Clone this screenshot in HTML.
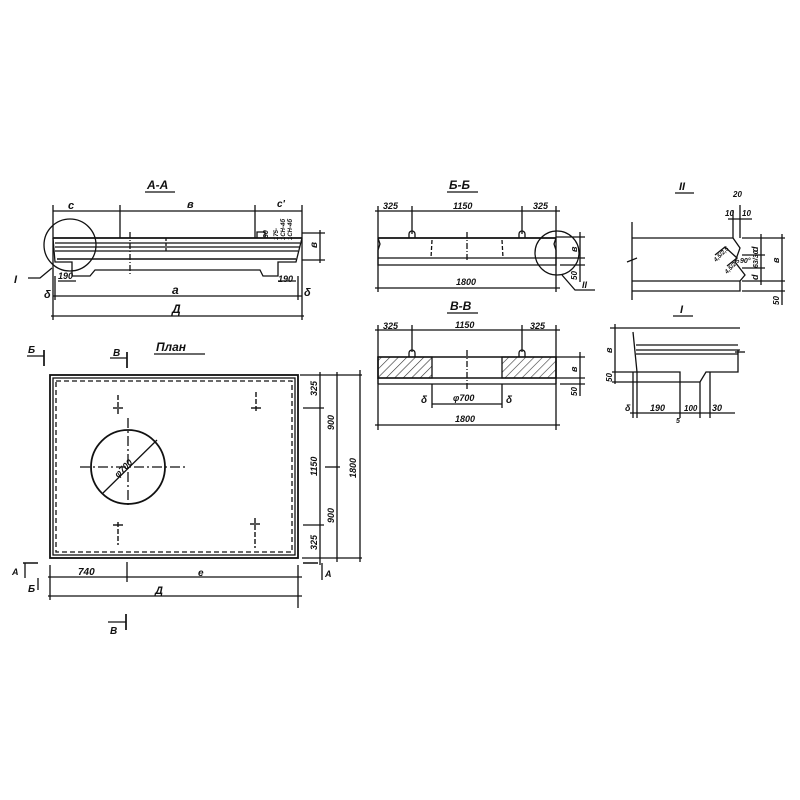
<!DOCTYPE html>
<html><head><meta charset="utf-8"><style>
html,body{margin:0;padding:0;background:#fff}
svg{display:block}
text{font-family:"Liberation Sans",sans-serif;font-style:italic;font-weight:bold;fill:#111}
</style></head><body>
<svg width="800" height="800" viewBox="0 0 800 800" xmlns="http://www.w3.org/2000/svg" stroke="#111" fill="none" stroke-width="1.3">
<!-- ===== A-A ===== -->
<text x="147" y="189" font-size="12" stroke="none">А-А</text>
<line x1="145" y1="192" x2="175" y2="192"/>
<line x1="53" y1="211" x2="302" y2="211"/>
<line x1="53" y1="205" x2="53" y2="320"/>
<line x1="120" y1="205" x2="120" y2="238"/>
<line x1="255" y1="205" x2="255" y2="238"/>
<line x1="302" y1="205" x2="302" y2="320"/>
<text x="68" y="209" font-size="11" stroke="none">с</text>
<text x="187" y="208" font-size="11" stroke="none">в</text>
<text x="277" y="207" font-size="10" stroke="none">с'</text>
<text x="268" y="238" font-size="7" stroke="none" transform="rotate(-90 268 238)">30</text>
<text x="278" y="240" font-size="6" stroke="none" transform="rotate(-90 278 240)">175-</text>
<text x="285" y="240" font-size="6" stroke="none" transform="rotate(-90 285 240)">1СН-4б</text>
<text x="292" y="240" font-size="6" stroke="none" transform="rotate(-90 292 240)">1СН-4б</text>
<polyline points="257,238 257,232 265,232 265,238"/>
<line x1="53" y1="238" x2="302" y2="238" stroke-width="1.8"/>
<line x1="55" y1="243" x2="300" y2="243"/>
<line x1="55" y1="247" x2="300" y2="247"/>
<line x1="55" y1="251" x2="298" y2="251"/>
<line x1="57" y1="259" x2="296" y2="259" stroke-width="1.5"/>
<polyline points="53,238 55,262 72,262 72,276 90,276 95,270 260,270 263,276 278,276 278,262 296,262 302,238"/>
<line x1="130" y1="232" x2="130" y2="275" stroke-dasharray="6,2,1,2"/>
<line x1="166" y1="238" x2="166" y2="252" stroke-dasharray="3,2"/>
<circle cx="70" cy="245" r="26"/>
<polyline points="28,278 40,278 52,268"/>
<text x="14" y="283" font-size="11" stroke="none">I</text>
<text x="58" y="279" font-size="9" stroke="none">190</text>
<text x="278" y="282" font-size="9" stroke="none">190</text>
<line x1="58" y1="281" x2="76" y2="281"/>
<line x1="278" y1="281" x2="296" y2="281"/>
<line x1="53" y1="296" x2="302" y2="296"/>
<line x1="55" y1="276" x2="55" y2="300"/>
<line x1="298" y1="276" x2="298" y2="300"/>
<text x="44" y="298" font-size="11" stroke="none">δ</text>
<text x="304" y="296" font-size="11" stroke="none">δ</text>
<text x="172" y="294" font-size="12" stroke="none">а</text>
<line x1="51" y1="316" x2="304" y2="316"/>
<text x="172" y="313" font-size="12" stroke="none">Д</text>
<line x1="302" y1="233" x2="325" y2="233"/>
<line x1="302" y1="260" x2="325" y2="260"/>
<line x1="320" y1="230" x2="320" y2="263"/>
<text x="317" y="248" font-size="10" stroke="none" transform="rotate(-90 317 248)">в</text>
<!-- ===== Plan ===== -->
<text x="156" y="351" font-size="12" stroke="none">План</text>
<line x1="154" y1="354" x2="205" y2="354"/>
<text x="28" y="353" font-size="10" stroke="none">Б</text>
<line x1="27" y1="356" x2="44" y2="356"/><line x1="44" y1="350" x2="44" y2="366" stroke-width="1.7"/>
<text x="113" y="356" font-size="10" stroke="none">В</text>
<line x1="110" y1="358" x2="127" y2="358"/><line x1="127" y1="352" x2="127" y2="368" stroke-width="1.7"/>
<rect x="50" y="375" width="248" height="183" stroke-width="1.8"/>
<rect x="53" y="378" width="242" height="177"/>
<rect x="56" y="381" width="236" height="171" stroke-dasharray="5,3"/>
<circle cx="128" cy="467" r="37" stroke-width="1.8"/>
<line x1="80" y1="467" x2="185" y2="467" stroke-dasharray="10,3,2,3"/>
<line x1="128" y1="418" x2="128" y2="505" stroke-dasharray="10,3,2,3"/>
<line x1="103" y1="493" x2="157" y2="440"/>
<text x="118" y="478" font-size="9" stroke="none" transform="rotate(-45 118 478)">φ700</text>
<g stroke-width="1.4">
<line x1="113" y1="408" x2="123" y2="408"/><line x1="118" y1="395" x2="118" y2="414" stroke-dasharray="5,2"/>
<line x1="251" y1="408" x2="261" y2="408"/><line x1="256" y1="392" x2="256" y2="412" stroke-dasharray="5,2"/>
<line x1="113" y1="525" x2="123" y2="525"/><line x1="118" y1="522" x2="118" y2="545" stroke-dasharray="5,2"/>
<line x1="250" y1="524" x2="260" y2="524"/><line x1="255" y1="518" x2="255" y2="548" stroke-dasharray="5,2"/>
</g>
<line x1="300" y1="375" x2="362" y2="375"/>
<line x1="302" y1="558" x2="362" y2="558"/>
<line x1="303" y1="408" x2="324" y2="408"/>
<line x1="303" y1="525" x2="324" y2="525"/>
<line x1="320" y1="372" x2="320" y2="565"/>
<line x1="337" y1="372" x2="337" y2="562"/>
<line x1="360" y1="370" x2="360" y2="562"/>
<line x1="325" y1="467" x2="340" y2="467"/>
<text x="317" y="396" font-size="9" stroke="none" transform="rotate(-90 317 396)">325</text>
<text x="317" y="476" font-size="9" stroke="none" transform="rotate(-90 317 476)">1150</text>
<text x="317" y="550" font-size="9" stroke="none" transform="rotate(-90 317 550)">325</text>
<text x="334" y="430" font-size="9" stroke="none" transform="rotate(-90 334 430)">900</text>
<text x="334" y="523" font-size="9" stroke="none" transform="rotate(-90 334 523)">900</text>
<text x="356" y="478" font-size="9" stroke="none" transform="rotate(-90 356 478)">1800</text>
<line x1="303" y1="563" x2="318" y2="563" stroke-width="1.5"/>
<line x1="322" y1="563" x2="322" y2="580"/>
<text x="325" y="577" font-size="9" stroke="none">А</text>
<line x1="23" y1="563" x2="38" y2="563" stroke-width="1.5"/>
<line x1="25" y1="563" x2="25" y2="578"/>
<text x="12" y="575" font-size="9" stroke="none">А</text>
<text x="28" y="592" font-size="10" stroke="none">Б</text>
<line x1="38" y1="578" x2="38" y2="590"/>
<line x1="50" y1="565" x2="50" y2="600"/>
<line x1="298" y1="565" x2="298" y2="608"/>
<line x1="127" y1="562" x2="127" y2="582"/>
<line x1="48" y1="577" x2="302" y2="577"/>
<text x="78" y="575" font-size="10" stroke="none">740</text>
<text x="198" y="576" font-size="10" stroke="none">е</text>
<line x1="48" y1="596" x2="302" y2="596"/>
<text x="155" y="594" font-size="11" stroke="none">Д</text>
<text x="110" y="634" font-size="10" stroke="none">В</text>
<line x1="108" y1="622" x2="126" y2="622"/><line x1="126" y1="614" x2="126" y2="630" stroke-width="1.7"/>
<!-- ===== Б-Б ===== -->
<text x="449" y="189" font-size="12" stroke="none">Б-Б</text>
<line x1="447" y1="192" x2="478" y2="192"/>
<line x1="375" y1="211" x2="560" y2="211"/>
<line x1="378" y1="206" x2="378" y2="292"/>
<line x1="412" y1="206" x2="412" y2="234"/>
<line x1="522" y1="206" x2="522" y2="234"/>
<line x1="556" y1="206" x2="556" y2="292"/>
<text x="383" y="209" font-size="9" stroke="none">325</text>
<text x="453" y="209" font-size="9" stroke="none">1150</text>
<text x="533" y="209" font-size="9" stroke="none">325</text>
<path d="M409,238 v-4 a3,3 0 0 1 6,0 v4 M519,238 v-4 a3,3 0 0 1 6,0 v4"/>
<line x1="378" y1="238" x2="556" y2="238" stroke-width="1.7"/>
<polyline points="378,238 380,244 378,250 378,265 556,265 556,250 554,244 556,238"/>
<line x1="378" y1="258" x2="556" y2="258"/>
<line x1="432" y1="240" x2="431" y2="258" stroke-dasharray="4,2"/>
<line x1="467" y1="232" x2="467" y2="262" stroke-dasharray="6,2,1,2"/>
<line x1="502" y1="240" x2="503" y2="258" stroke-dasharray="4,2"/>
<circle cx="557" cy="253" r="22"/>
<polyline points="562,275 575,290 595,290"/>
<text x="582" y="288" font-size="9" stroke="none">II</text>
<line x1="556" y1="237" x2="585" y2="237"/>
<line x1="556" y1="258" x2="585" y2="258"/>
<line x1="560" y1="265" x2="585" y2="265"/>
<line x1="580" y1="232" x2="580" y2="282"/>
<text x="577" y="252" font-size="9" stroke="none" transform="rotate(-90 577 252)">в</text>
<text x="577" y="280" font-size="8" stroke="none" transform="rotate(-90 577 280)">50</text>
<line x1="375" y1="288" x2="560" y2="288"/>
<text x="456" y="285" font-size="9" stroke="none">1800</text>
<!-- ===== В-В ===== -->
<text x="450" y="310" font-size="12" stroke="none">В-В</text>
<line x1="447" y1="313" x2="478" y2="313"/>
<line x1="375" y1="330" x2="560" y2="330"/>
<line x1="378" y1="325" x2="378" y2="430"/>
<line x1="412" y1="325" x2="412" y2="352"/>
<line x1="522" y1="325" x2="522" y2="352"/>
<line x1="556" y1="325" x2="556" y2="430"/>
<text x="383" y="329" font-size="9" stroke="none">325</text>
<text x="455" y="328" font-size="9" stroke="none">1150</text>
<text x="530" y="329" font-size="9" stroke="none">325</text>
<defs><pattern id="h" width="6" height="6" patternUnits="userSpaceOnUse" patternTransform="rotate(45)"><line x1="0" y1="0" x2="0" y2="6" stroke="#333" stroke-width="1.2"/></pattern></defs>
<path d="M409,357 v-4 a3,3 0 0 1 6,0 v4 M519,357 v-4 a3,3 0 0 1 6,0 v4"/>
<polygon points="378,357 432,357 432,378 378,378" fill="url(#h)"/>
<polygon points="502,357 556,357 556,378 502,378" fill="url(#h)"/>
<rect x="378" y="357" width="178" height="21" stroke-width="1.5"/>
<line x1="378" y1="384" x2="556" y2="384"/>
<line x1="378" y1="378" x2="378" y2="384"/>
<line x1="556" y1="378" x2="556" y2="384"/>
<line x1="467" y1="350" x2="467" y2="390" stroke-dasharray="6,2,1,2"/>
<line x1="432" y1="384" x2="432" y2="408"/>
<line x1="502" y1="384" x2="502" y2="408"/>
<line x1="432" y1="404" x2="502" y2="404"/>
<text x="453" y="401" font-size="9" stroke="none">φ700</text>
<text x="421" y="403" font-size="10" stroke="none">δ</text>
<text x="506" y="403" font-size="10" stroke="none">δ</text>
<line x1="556" y1="357" x2="585" y2="357"/>
<line x1="556" y1="378" x2="585" y2="378"/>
<line x1="560" y1="384" x2="585" y2="384"/>
<line x1="580" y1="352" x2="580" y2="396"/>
<text x="577" y="372" font-size="9" stroke="none" transform="rotate(-90 577 372)">в</text>
<text x="577" y="396" font-size="8" stroke="none" transform="rotate(-90 577 396)">50</text>
<line x1="375" y1="425" x2="560" y2="425"/>
<text x="455" y="422" font-size="9" stroke="none">1800</text>
<!-- ===== II ===== -->
<text x="679" y="190" font-size="11" stroke="none">II</text>
<line x1="675" y1="193" x2="694" y2="193"/>
<line x1="632" y1="222" x2="632" y2="300"/>
<line x1="627" y1="262" x2="637" y2="258"/>
<line x1="632" y1="238" x2="733" y2="238"/>
<polyline points="733,238 740,248 735,262 745,275 740,281 740,291 632,291"/>
<line x1="632" y1="281" x2="740" y2="281"/>
<line x1="733" y1="210" x2="733" y2="238"/>
<line x1="740" y1="205" x2="740" y2="238"/>
<text x="733" y="197" font-size="8" stroke="none">20</text>
<text x="725" y="216" font-size="8" stroke="none">10</text>
<text x="742" y="216" font-size="8" stroke="none">10</text>
<line x1="728" y1="219" x2="752" y2="219"/>
<polyline points="715,255 725,247 737,258 727,266"/>
<text x="716" y="262" font-size="6" stroke="none" transform="rotate(-45 716 262)">4,5/2,5</text>
<text x="727" y="274" font-size="6" stroke="none" transform="rotate(-45 727 274)">4,5/2,5</text>
<text x="740" y="263" font-size="7" stroke="none">90°</text>
<line x1="742" y1="238" x2="785" y2="238"/>
<line x1="742" y1="255" x2="765" y2="255"/>
<line x1="742" y1="268" x2="765" y2="268"/>
<line x1="742" y1="281" x2="785" y2="281"/>
<line x1="742" y1="291" x2="785" y2="291"/>
<line x1="761" y1="234" x2="761" y2="285"/>
<line x1="782" y1="234" x2="782" y2="305"/>
<text x="758" y="252" font-size="9" stroke="none" transform="rotate(-90 758 252)">d</text>
<text x="758" y="268" font-size="7" stroke="none" transform="rotate(-90 758 268)">63/30</text>
<text x="758" y="280" font-size="9" stroke="none" transform="rotate(-90 758 280)">d</text>
<text x="779" y="263" font-size="9" stroke="none" transform="rotate(-90 779 263)">в</text>
<text x="779" y="305" font-size="8" stroke="none" transform="rotate(-90 779 305)">50</text>
<!-- ===== I ===== -->
<text x="680" y="313" font-size="11" stroke="none">I</text>
<line x1="673" y1="316" x2="693" y2="316"/>
<line x1="610" y1="328" x2="740" y2="328"/>
<polyline points="633,332 637,372 680,372 680,382 700,382 706,372 738,372 738,350"/>
<line x1="636" y1="345" x2="738" y2="345"/>
<line x1="636" y1="350" x2="740" y2="350"/>
<line x1="636" y1="354" x2="738" y2="354"/>
<line x1="735" y1="352" x2="745" y2="352"/>
<line x1="615" y1="324" x2="615" y2="384"/>
<line x1="612" y1="372" x2="637" y2="372"/>
<line x1="612" y1="382" x2="680" y2="382"/>
<text x="612" y="353" font-size="9" stroke="none" transform="rotate(-90 612 353)">в</text>
<text x="612" y="382" font-size="8" stroke="none" transform="rotate(-90 612 382)">50</text>
<line x1="633" y1="372" x2="633" y2="418"/>
<line x1="637" y1="372" x2="637" y2="418"/>
<line x1="680" y1="382" x2="680" y2="418"/>
<line x1="700" y1="382" x2="700" y2="418"/>
<line x1="710" y1="372" x2="710" y2="418"/>
<line x1="630" y1="413" x2="735" y2="413"/>
<text x="625" y="411" font-size="9" stroke="none">δ</text>
<text x="650" y="411" font-size="9" stroke="none">190</text>
<text x="684" y="411" font-size="8" stroke="none">100</text>
<text x="712" y="411" font-size="9" stroke="none">30</text>
<text x="676" y="423" font-size="7" stroke="none">5</text>
</svg>
</body></html>
